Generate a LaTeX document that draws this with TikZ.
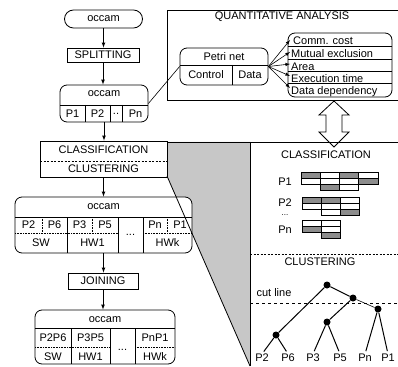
\documentclass[tikz,border=0pt]{standalone}
\usepackage{fontspec}
\setmainfont{Liberation Sans}
\usetikzlibrary{arrows}

\tikzset{
	every node/.style={inner sep=0pt, font=\fontsize{11}{12}\selectfont},
	frame/.style={shape=rectangle, draw, line width=0.8pt, rounded corners=7pt, fill=white},
	stepbox/.style={shape=rectangle, draw, line width=0.8pt, fill=white},
	link/.style={line width=0.7pt, -latex},
	rule/.style={line width=0.6pt},
	dotrule/.style={line width=0.6pt, densely dotted},
	tone/.style={fill=black!45},
	blank/.style={fill=white},
	merge/.style={shape=circle, fill=black, minimum size=7pt},
}

\begin{document}
\begin{tikzpicture}[x=1pt, y=-1pt]
	\useasboundingbox (0,0) rectangle (398,366);

	% wedge between the two halves
	\fill[black!22] (167,142) -- (250,142) -- (250,366) -- (167,176) -- cycle;

	% splitting
	\node[frame, rounded corners=9pt, minimum width=78pt, minimum height=18pt](occ1) at (103.5,19){occam};
	\node[stepbox, minimum width=72pt, minimum height=14pt](split) at (103,55){SPLITTING};
	\node[frame, minimum width=88pt, minimum height=37pt](occ2) at (104,103.5){};
	\node at (104,94){occam};
	\draw[rule] (60,105) -- (148,105);
	\foreach \x in {85,110,122} \draw[rule] (\x,105) -- (\x,122);
	\node at (72.5,113.5){P1};
	\node at (97.5,113.5){P2};
	\node at (116,113.5){..};
	\node at (135.5,113.5){Pn};
	\draw[link] (occ1.south) -- (occ1.south |- split.north);
	\draw[link] (split.south) -- (split.south |- occ2.north);

	% quantitative analysis
	\draw[line width=0.8pt] (398,10) -- (167,10) -- (167,100) -- (398,100);
	\node at (282,17){QUANTITATIVE ANALYSIS};
	\node[frame, minimum width=88pt, minimum height=37pt](petri) at (224,66.5){};
	\node at (224,57){Petri net};
	\draw[rule] (180,65) -- (268,65);
	\draw[rule] (232,65) -- (232,85);
	\node at (206,75){Control};
	\node at (250,75){Data};
	\draw[rule] (occ2.east) -- (petri.west);
	\node[frame, minimum width=104pt, minimum height=64pt](crit) at (340,65){};
	\foreach \y in {46,59,71.5,83.5} \draw[rule] (288,\y) -- (392,\y);
	\node[anchor=base west] at (293,45){Comm. cost};
	\node[anchor=base west] at (291,58){Mutual exclusion};
	\node[anchor=base west] at (291,70.5){Area};
	\node[anchor=base west] at (291,82.5){Execution time};
	\node[anchor=base west] at (291,94.5){Data dependency};
	\foreach \i/\y in {1/40,2/52,3/64,4/76,5/88}{
		\coordinate (crit\i) at (290,\y);
		\draw[rule, -latex] (petri.east) -- (crit\i);
	}

	% two-way arrow
	\draw[line width=0.8pt, fill=white] (334,101) -- (349,115) -- (342,115) -- (342,132) -- (349,132) -- (334,147)
		-- (319,132) -- (326,132) -- (326,115) -- (319,115) -- cycle;

	% classification / clustering
	\node[stepbox, minimum width=127pt, minimum height=36pt](cls) at (103.5,159){};
	\node at (103.5,150){CLASSIFICATION};
	\node at (103.5,168.5){CLUSTERING};
	\draw[rule, dash pattern=on 2pt off 1.5pt] (40,161.5) -- (167,161.5);
	\draw[link] (occ2.south) -- (occ2.south |- cls.north);

	\node[frame, minimum width=177pt, minimum height=56pt](occ3) at (103.5,225){};
	\node at (103.5,207){occam};
	\draw[rule] (15,217) -- (192,217);
	\foreach \x in {67,118,143} \draw[rule] (\x,217) -- (\x,253);
	\foreach \x in {42,92,167} \draw[dotrule] (\x,217) -- (\x,233);
	\draw[dotrule] (15,233) -- (118,233);
	\draw[dotrule] (143,233) -- (192,233);
	\node at (28.5,225){P2};
	\node at (54.5,225){P6};
	\node at (79.5,225){P3};
	\node at (105,225){P5};
	\node at (130.5,235){...};
	\node at (155,225){Pn};
	\node at (180,225){P1};
	\node at (41,243){SW};
	\node at (92.5,243){HW1};
	\node at (167.5,243){HWk};
	\draw[link] (cls.south) -- (cls.south |- occ3.north);

	% joining
	\node[stepbox, minimum width=70pt, minimum height=16pt](join) at (103,281){JOINING};
	\draw[link] (occ3.south) -- (occ3.south |- join.north);
	\node[frame, minimum width=140pt, minimum height=54pt](occ4) at (105,337){};
	\node at (105,319.5){occam};
	\draw[rule] (35,328) -- (175,328);
	\foreach \x in {71,110,135} \draw[rule] (\x,328) -- (\x,364);
	\draw[dotrule] (35,347) -- (110,347);
	\draw[dotrule] (135,347) -- (175,347);
	\node at (53,338){P2P6};
	\node at (90.5,338){P3P5};
	\node at (122.5,350){...};
	\node at (155,338){PnP1};
	\node at (53,356.5){SW};
	\node at (90.5,356.5){HW1};
	\node at (155,356.5){HWk};
	\draw[link] (join.south) -- (join.south |- occ4.north);

	% wedge outline and right panel
	\draw[line width=0.8pt] (167,142) -- (398,142);
	\draw[line width=0.8pt] (250,142) -- (250,366);
	\draw[line width=0.8pt] (167,176) -- (250,366);
	\draw[rule, dash pattern=on 2pt off 1.5pt] (250,254) -- (398,254);
	\node at (326,155){CLASSIFICATION};
	\node at (320,262){CLUSTERING};

	% classes per process
	\node at (285,182){P1};
	\node at (285,203){P2};
	\node[font=\fontsize{8}{9}\selectfont] at (285,215){...};
	\node at (285,230){Pn};
	\foreach \c/\r/\s in {0/0/tone,0/1/blank,1/0/blank,1/1/blank,1/2/tone,2/0/tone,2/1/blank,2/2/blank,3/0/blank,3/1/tone}
		\draw[rule, \s] ({301+19.25*\c},{172+6.2*\r}) rectangle ++(19.25,6.2);
	\foreach \c/\r/\s in {0/0/tone,0/1/blank,1/0/tone,1/1/blank,1/2/blank,2/0/blank,2/1/blank,2/2/tone}
		\draw[rule, \s] ({302+19.25*\c},{197+6.2*\r}) rectangle ++(19.25,6.2);
	\foreach \c/\r/\s in {0/0/blank,0/1/tone,1/0/blank,1/1/blank,1/2/tone}
		\draw[rule, \s] ({302+19.25*\c},{220+6.2*\r}) rectangle ++(19.25,6.2);

	% cluster tree
	\draw[dashed, line width=0.7pt] (250,303) -- (398,303);
	\node at (274,293){cut line};
	\node[merge](m1) at (327,285){};
	\node[merge](m2) at (353,298){};
	\node[merge](m3) at (327,322){};
	\node[merge](m4) at (276,335){};
	\node[merge](m5) at (378,309){};
	\node(lp2) at (262,358){P2};
	\node(lp6) at (288,358){P6};
	\node(lp3) at (313,358){P3};
	\node(lp5) at (340,358){P5};
	\node(lpn) at (365,358){Pn};
	\node(lp1) at (388,358){P1};
	\draw[line width=1pt] (m1) -- (m4);
	\draw[line width=1pt] (m1) -- (m2);
	\draw[line width=1pt] (m2) -- (m3);
	\draw[line width=0.6pt] (m2) -- (m5);
	\foreach \a/\b in {m4/lp2,m4/lp6,m3/lp3,m3/lp5,m5/lpn,m5/lp1}
		\draw[line width=1pt, shorten >=3pt] (\a) -- (\b.north);
\end{tikzpicture}
\end{document}
